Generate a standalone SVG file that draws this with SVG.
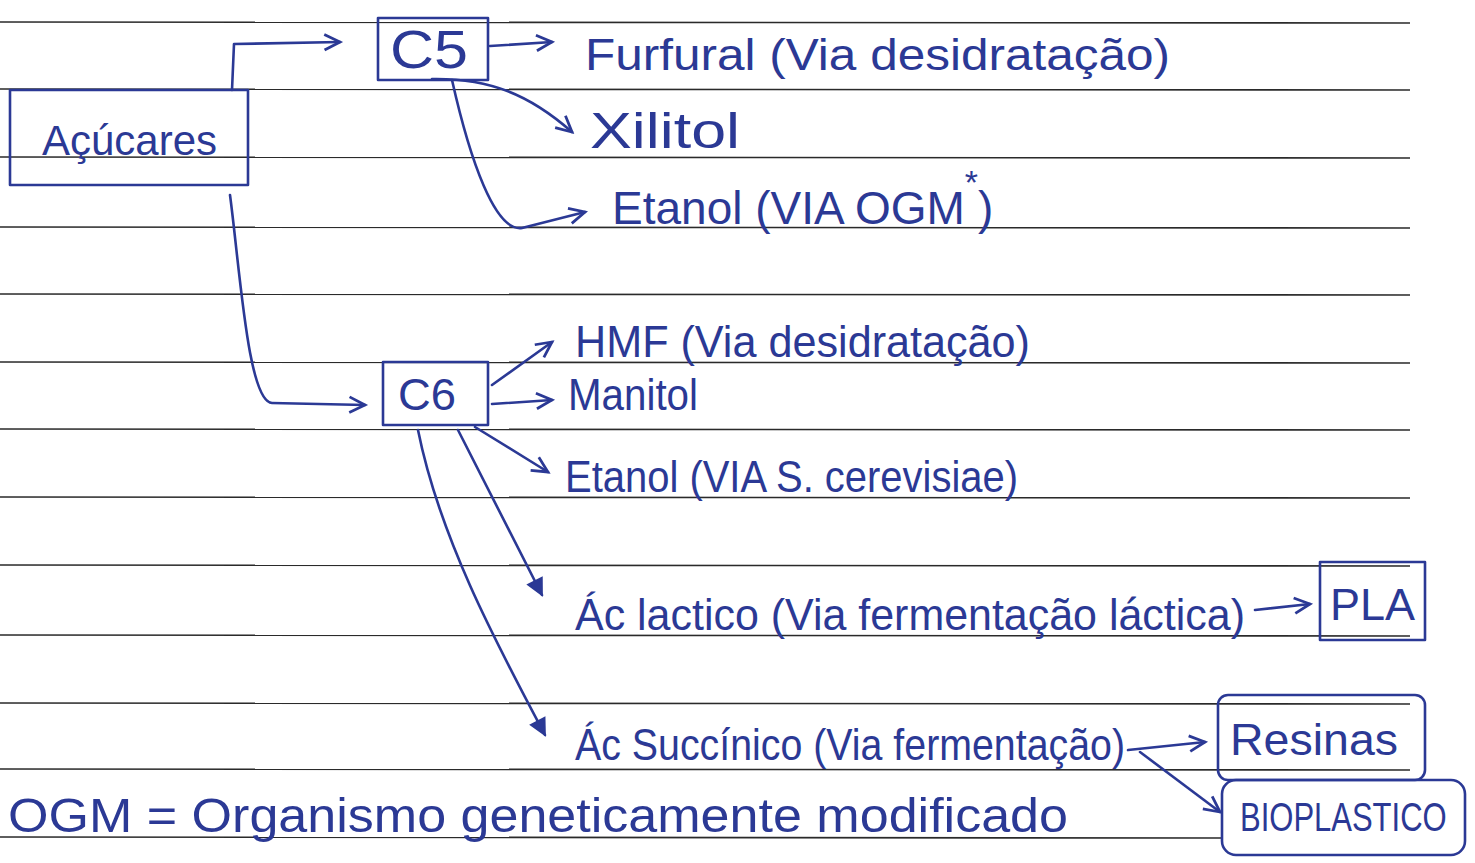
<svg xmlns="http://www.w3.org/2000/svg" width="1475" height="863" viewBox="0 0 1475 863">
<style>
.rule{stroke:#2a2a2a;stroke-width:1.6}
.box{fill:none;stroke:#2b3995;stroke-width:2.6;stroke-linejoin:round}
.t{font-family:"Liberation Sans",Arial,sans-serif;fill:#2b3995}
.c{fill:none;stroke:#2b3995;stroke-width:2.6;stroke-linecap:round;stroke-linejoin:round}
.o{marker-end:url(#open)}
.f{marker-end:url(#fill)}
</style>
<defs>
<marker id="open" viewBox="0 0 12 12" refX="10" refY="6" markerWidth="8" markerHeight="8" orient="auto" markerUnits="strokeWidth">
<path d="M1,1.5 L10,6 L1,10.5" fill="none" stroke="#2b3995" stroke-width="1.6"/>
</marker>
<marker id="fill" viewBox="0 0 12 12" refX="10" refY="6" markerWidth="8" markerHeight="8" orient="auto" markerUnits="strokeWidth">
<path d="M1,1.5 L10,6 L1,10.5 Z" fill="#2b3995" stroke="#2b3995" stroke-width="1"/>
</marker>
</defs>
<rect width="1475" height="863" fill="#ffffff"/>
<g id="ruled-lines">
<line class="rule" x1="0" y1="22" x2="1410" y2="23"/>
<line class="rule" x1="0" y1="89" x2="1410" y2="90"/>
<line class="rule" x1="0" y1="157" x2="1410" y2="158"/>
<line class="rule" x1="0" y1="227" x2="1410" y2="228"/>
<line class="rule" x1="0" y1="294" x2="1410" y2="295"/>
<line class="rule" x1="0" y1="362" x2="1410" y2="363"/>
<line class="rule" x1="0" y1="429" x2="1410" y2="430"/>
<line class="rule" x1="0" y1="497" x2="1410" y2="498"/>
<line class="rule" x1="0" y1="565" x2="1410" y2="566"/>
<line class="rule" x1="0" y1="635" x2="1410" y2="636"/>
<line class="rule" x1="0" y1="703" x2="1410" y2="704"/>
<line class="rule" x1="0" y1="769" x2="1410" y2="770"/>
<line class="rule" x1="0" y1="837" x2="1222" y2="838"/>
</g>
<g id="connectors">
<path class="c o" d="M232,90 L234,44 L340,42"/>
<path class="c o" d="M490,46 L552,42"/>
<path class="c o" d="M432,79 C490,78 530,95 572,132"/>
<path class="c o" d="M452,80 C470,160 495,232 522,228 L585,212"/>
<path class="c o" d="M230,195 C240,270 248,402 272,403 L365,405"/>
<path class="c o" d="M492,385 L552,342"/>
<path class="c o" d="M492,404 L552,400"/>
<path class="c o" d="M475,427 L548,472"/>
<path class="c f" d="M458,430 L542,595"/>
<path class="c f" d="M418,430 C440,540 500,650 545,735"/>
<path class="c o" d="M1255,610 L1310,604"/>
<path class="c o" d="M1128,750 L1205,742"/>
<path class="c o" d="M1140,752 L1220,812"/>
</g>
<g id="acucares">
<rect class="box" x="10" y="90" width="238" height="95"/>
<text class="t" x="42" y="155" font-size="42">Açúcares</text>
</g>
<g id="c5">
<rect class="box" x="378" y="18" width="110" height="62"/>
<text class="t" x="390" y="68" textLength="78" lengthAdjust="spacingAndGlyphs" font-size="54">C5</text>
</g>
<g id="furfural">
<text class="t" x="585" y="70" textLength="585" lengthAdjust="spacingAndGlyphs" font-size="44">Furfural (Via desidratação)</text>
</g>
<g id="xilitol">
<text class="t" x="590" y="148" textLength="150" lengthAdjust="spacingAndGlyphs" font-size="50">Xilitol</text>
</g>
<g id="etanol-ogm">
<text class="t" x="612" y="224" font-size="46">Etanol (VIA OGM<tspan dy="-30" font-size="34">*</tspan><tspan dy="30">)</tspan></text>
</g>
<g id="c6">
<rect class="box" x="383" y="362" width="105" height="63"/>
<text class="t" x="398" y="410" textLength="58" lengthAdjust="spacingAndGlyphs" font-size="44">C6</text>
</g>
<g id="hmf">
<text class="t" x="575" y="357" textLength="455" lengthAdjust="spacingAndGlyphs" font-size="44">HMF (Via desidratação)</text>
</g>
<g id="manitol">
<text class="t" x="568" y="410" textLength="130" lengthAdjust="spacingAndGlyphs" font-size="44">Manitol</text>
</g>
<g id="etanol-sc">
<text class="t" x="565" y="492" textLength="453" lengthAdjust="spacingAndGlyphs" font-size="44">Etanol (VIA S. cerevisiae)</text>
</g>
<g id="ac-lactico">
<text class="t" x="575" y="630" textLength="670" lengthAdjust="spacingAndGlyphs" font-size="44">Ác lactico (Via fermentação láctica)</text>
</g>
<g id="pla">
<rect class="box" x="1320" y="562" width="105" height="78"/>
<text class="t" x="1330" y="620" textLength="85" lengthAdjust="spacingAndGlyphs" font-size="44">PLA</text>
</g>
<g id="ac-succinico">
<text class="t" x="575" y="760" textLength="550" lengthAdjust="spacingAndGlyphs" font-size="44">Ác Succínico (Via fermentação)</text>
</g>
<g id="resinas">
<rect class="box" x="1218" y="695" width="207" height="85" rx="10"/>
<text class="t" x="1230" y="755" textLength="168" lengthAdjust="spacingAndGlyphs" font-size="44">Resinas</text>
</g>
<g id="bioplastico">
<rect class="box" x="1222" y="780" width="243" height="75" rx="14"/>
<text class="t" transform="translate(1240,831) scale(1,1.3)" x="0" y="0" font-size="31">BIOPLASTICO</text>
</g>
<g id="legenda">
<text class="t" x="8" y="832" textLength="1060" lengthAdjust="spacingAndGlyphs" font-size="48">OGM = Organismo geneticamente modificado</text>
</g>
</svg>
